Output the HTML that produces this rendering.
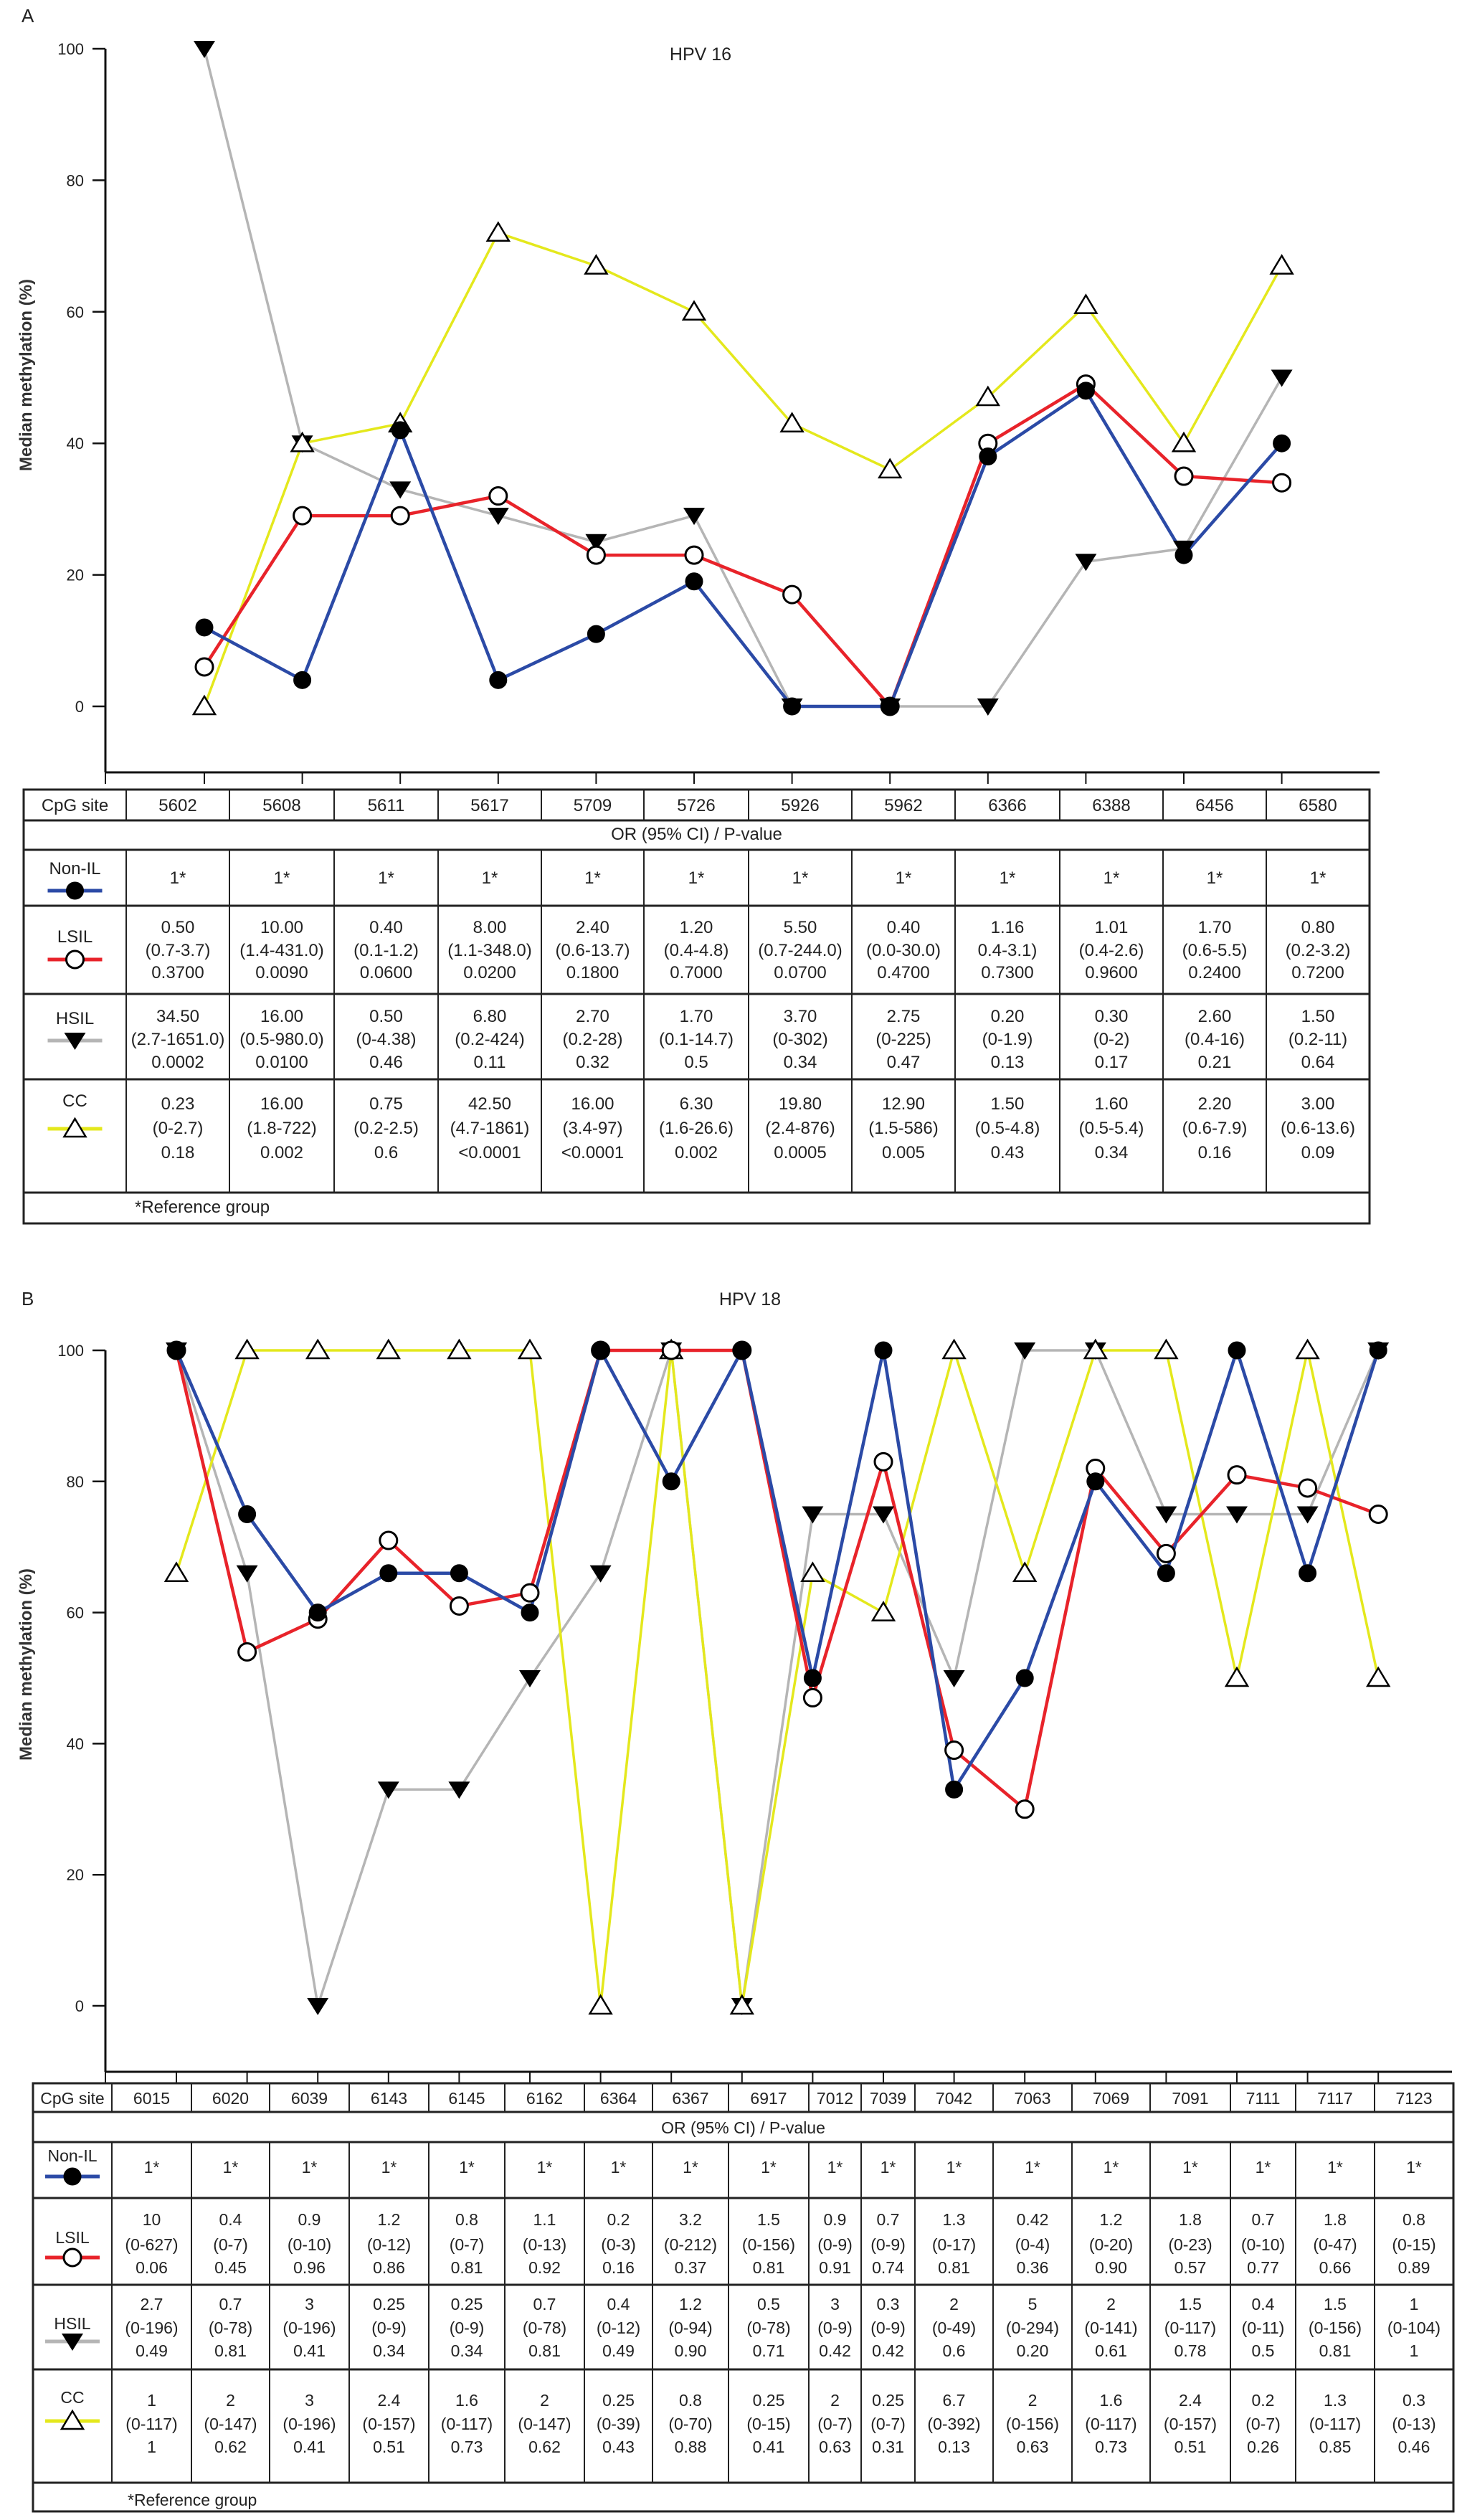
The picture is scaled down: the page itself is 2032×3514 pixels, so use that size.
<!DOCTYPE html>
<html><head><meta charset="utf-8">
<style>
html,body{margin:0;padding:0;background:#fff;}
svg{display:block;font-family:"Liberation Sans",Arial,sans-serif;}
</style></head>
<body>
<svg id="fig" width="2032" height="3514" viewBox="0 0 2032 3514" xmlns="http://www.w3.org/2000/svg">
<rect x="0" y="0" width="2032" height="3514" fill="#fff"/>
<text x="30" y="31" font-size="26" fill="#222">A</text>
<text x="977" y="84" font-size="25" text-anchor="middle" fill="#222">HPV 16</text>
<text x="30" y="1820" font-size="26" fill="#222">B</text>
<text x="1046" y="1820" font-size="25" text-anchor="middle" fill="#222">HPV 18</text>
<g id="chartA"></g>
<g id="tableA"></g>
<g id="chartB"></g>
<g id="tableB"></g>
</svg>
<script>
// ---------- Panel A data ----------
const A_sites=["5602","5608","5611","5617","5709","5726","5926","5962","6366","6388","6456","6580"];
const A_nonil=[12,4,42,4,11,19,0,0,38,48,23,40];
const A_lsil=[6,29,29,32,23,23,17,0,40,49,35,34];
const A_hsil=[100,40,33,29,25,29,0,0,0,22,24,50];
const A_cc=[0,40,43,72,67,60,43,36,47,61,40,67];
const yTicks=[0,20,40,60,80,100];
const A_tLSIL=[["0.50","(0.7-3.7)","0.3700"],["10.00","(1.4-431.0)","0.0090"],["0.40","(0.1-1.2)","0.0600"],["8.00","(1.1-348.0)","0.0200"],["2.40","(0.6-13.7)","0.1800"],["1.20","(0.4-4.8)","0.7000"],["5.50","(0.7-244.0)","0.0700"],["0.40","(0.0-30.0)","0.4700"],["1.16","0.4-3.1)","0.7300"],["1.01","(0.4-2.6)","0.9600"],["1.70","(0.6-5.5)","0.2400"],["0.80","(0.2-3.2)","0.7200"]];
const A_tHSIL=[["34.50","(2.7-1651.0)","0.0002"],["16.00","(0.5-980.0)","0.0100"],["0.50","(0-4.38)","0.46"],["6.80","(0.2-424)","0.11"],["2.70","(0.2-28)","0.32"],["1.70","(0.1-14.7)","0.5"],["3.70","(0-302)","0.34"],["2.75","(0-225)","0.47"],["0.20","(0-1.9)","0.13"],["0.30","(0-2)","0.17"],["2.60","(0.4-16)","0.21"],["1.50","(0.2-11)","0.64"]];
const A_tCC=[["0.23","(0-2.7)","0.18"],["16.00","(1.8-722)","0.002"],["0.75","(0.2-2.5)","0.6"],["42.50","(4.7-1861)","<0.0001"],["16.00","(3.4-97)","<0.0001"],["6.30","(1.6-26.6)","0.002"],["19.80","(2.4-876)","0.0005"],["12.90","(1.5-586)","0.005"],["1.50","(0.5-4.8)","0.43"],["1.60","(0.5-5.4)","0.34"],["2.20","(0.6-7.9)","0.16"],["3.00","(0.6-13.6)","0.09"]];
// ---------- Panel B data ----------
const B_sites=["6015","6020","6039","6143","6145","6162","6364","6367","6917","7012","7039","7042","7063","7069","7091","7111","7117","7123"];
const B_nonil=[100,75,60,66,66,60,100,80,100,50,100,33,50,80,66,100,66,100];
const B_lsil=[100,54,59,71,61,63,100,100,100,47,83,39,30,82,69,81,79,75];
const B_hsil=[100,66,0,33,33,50,66,100,0,75,75,50,100,100,75,75,75,100];
const B_cc=[66,100,100,100,100,100,0,100,0,66,60,100,66,100,100,50,100,50];
const B_tLSIL=[["10","(0-627)","0.06"],["0.4","(0-7)","0.45"],["0.9","(0-10)","0.96"],["1.2","(0-12)","0.86"],["0.8","(0-7)","0.81"],["1.1","(0-13)","0.92"],["0.2","(0-3)","0.16"],["3.2","(0-212)","0.37"],["1.5","(0-156)","0.81"],["0.9","(0-9)","0.91"],["0.7","(0-9)","0.74"],["1.3","(0-17)","0.81"],["0.42","(0-4)","0.36"],["1.2","(0-20)","0.90"],["1.8","(0-23)","0.57"],["0.7","(0-10)","0.77"],["1.8","(0-47)","0.66"],["0.8","(0-15)","0.89"]];
const B_tHSIL=[["2.7","(0-196)","0.49"],["0.7","(0-78)","0.81"],["3","(0-196)","0.41"],["0.25","(0-9)","0.34"],["0.25","(0-9)","0.34"],["0.7","(0-78)","0.81"],["0.4","(0-12)","0.49"],["1.2","(0-94)","0.90"],["0.5","(0-78)","0.71"],["3","(0-9)","0.42"],["0.3","(0-9)","0.42"],["2","(0-49)","0.6"],["5","(0-294)","0.20"],["2","(0-141)","0.61"],["1.5","(0-117)","0.78"],["0.4","(0-11)","0.5"],["1.5","(0-156)","0.81"],["1","(0-104)","1"]];
const B_tCC=[["1","(0-117)","1"],["2","(0-147)","0.62"],["3","(0-196)","0.41"],["2.4","(0-157)","0.51"],["1.6","(0-117)","0.73"],["2","(0-147)","0.62"],["0.25","(0-39)","0.43"],["0.8","(0-70)","0.88"],["0.25","(0-15)","0.41"],["2","(0-7)","0.63"],["0.25","(0-7)","0.31"],["6.7","(0-392)","0.13"],["2","(0-156)","0.63"],["1.6","(0-117)","0.73"],["2.4","(0-157)","0.51"],["0.2","(0-7)","0.26"],["1.3","(0-117)","0.85"],["0.3","(0-13)","0.46"]];

const NS="http://www.w3.org/2000/svg";
const COL={nonil:"#2b4aa6",lsil:"#e8232a",hsil:"#b5b5b5",cc:"#e4e81c"};
function mk(parent,tag,attrs){const e=document.createElementNS(NS,tag);for(const k in attrs)e.setAttribute(k,attrs[k]);parent.appendChild(e);return e;}

function marker(g,type,x,y){
  let e;
  if(type==="nonil"){e=mk(g,"circle",{cx:x,cy:y,r:12,fill:"#000",stroke:"#000","stroke-width":1});}
  else if(type==="lsil"){e=mk(g,"circle",{cx:x,cy:y,r:12,fill:"#fff",stroke:"#000","stroke-width":3});}
  else if(type==="hsil"){e=mk(g,"polygon",{points:(x-15)+","+(y-11)+" "+(x+15)+","+(y-11)+" "+x+","+(y+13),fill:"#000"});}
  else {e=mk(g,"polygon",{points:x+","+(y-14)+" "+(x-15)+","+(y+11)+" "+(x+15)+","+(y+11),fill:"#fff",stroke:"#000","stroke-width":2.5,"stroke-linejoin":"miter"});}
  return e;
}

function chart(id,cfg){
  const g=document.getElementById(id);
  const xf=i=>cfg.x0+i*cfg.dx;
  const yf=v=>cfg.yZero-v*(cfg.yZero-cfg.yHundred)/100;
  // axes
  const ax=mk(g,"line",{x1:cfg.axX,y1:yf(100),x2:cfg.axX,y2:cfg.axisY,stroke:"#111","stroke-width":3});
  
  
  const bx=mk(g,"line",{x1:cfg.axX,y1:cfg.axisY,x2:cfg.axEnd,y2:cfg.axisY,stroke:"#111","stroke-width":3});
  
  
  yTicks.forEach(t=>{
    const tk=mk(g,"line",{x1:cfg.axX-18,y1:yf(t),x2:cfg.axX,y2:yf(t),stroke:"#111","stroke-width":2.5});
    
    
    const tl=mk(g,"text",{x:cfg.axX-30,y:yf(t)+8,"font-size":22,"text-anchor":"end",fill:"#222"});
    tl.textContent=String(t);
    
    
  });
  const tk0=mk(g,"line",{x1:cfg.axX,y1:cfg.axisY,x2:cfg.axX,y2:cfg.axisY+16,stroke:"#111","stroke-width":2});
  
  
  for(let i=0;i<cfg.n;i++){
    const tk=mk(g,"line",{x1:xf(i),y1:cfg.axisY,x2:xf(i),y2:cfg.axisY+16,stroke:"#111","stroke-width":2});
    
    
  }
  const yt=mk(g,"text",{x:0,y:0,"font-size":24,"font-weight":"bold","text-anchor":"middle",fill:"#333",transform:"translate(44,"+cfg.titleY+") rotate(-90)"});
  yt.textContent="Median methylation (%)";
  
  
  const series=[["hsil",cfg.hsil,3.5],["cc",cfg.cc,3.5],["lsil",cfg.lsil,4.5],["nonil",cfg.nonil,4.5]];
  series.forEach(([k,vals,w])=>{
    const pts=vals.map((v,i)=>xf(i)+","+yf(v)).join(" ");
    const pl=mk(g,"polyline",{points:pts,fill:"none",stroke:COL[k],"stroke-width":w,"stroke-linejoin":"round"});
    
    
  });
  series.forEach(([k,vals])=>{
    vals.forEach((v,i)=>{
      const m=marker(g,k,xf(i),yf(v));
      
      
    });
  });
}

function fitText(t,maxW){try{const w=t.getComputedTextLength();if(w>maxW){t.setAttribute("textLength",maxW);t.setAttribute("lengthAdjust","spacingAndGlyphs");}}catch(e){}}

function table(id,cfg){
  const g=document.getElementById(id);
  const L=cfg.cols[0],R=cfg.cols[cfg.cols.length-1],rows=cfg.rows;
  const T=rows[0],B=rows[rows.length-1];
  const rect=mk(g,"rect",{x:L,y:T,width:R-L,height:B-T,fill:"none",stroke:"#222","stroke-width":3});
  
  
  rows.slice(1,-1).forEach(y=>{
    const l=mk(g,"line",{x1:L,y1:y,x2:R,y2:y,stroke:"#222","stroke-width":3});
    
    
  });
  cfg.cols.slice(1,-1).forEach(x=>{
    [[rows[0],rows[1]],[rows[2],rows[6]]].forEach(([a,b])=>{
      const l=mk(g,"line",{x1:x,y1:a,x2:x,y2:b,stroke:"#222","stroke-width":2});
      
      
    });
  });
  const txt=(x,y,s,anchor,maxW)=>{const t=mk(g,"text",{x:x,y:y,"font-size":cfg.fs,"text-anchor":anchor||"middle",fill:"#222"});t.textContent=s;if(maxW)fitText(t,maxW);return t;};
  const cx=i=>(cfg.cols[i]+cfg.cols[i+1])/2;
  const cw=i=>cfg.cols[i+1]-cfg.cols[i]-4;
  let h=txt(cx(0),cfg.headY+8,"CpG site","middle",cw(0));
  
  
  cfg.sites.forEach((s,i)=>{const t=txt(cx(i+1),cfg.headY+8,s,"middle",cw(i+1));
    
    });
  h=txt((L+R)/2,cfg.orY+8,"OR (95% CI) / P-value");
  
  
  cfg.sites.forEach((s,i)=>{const t=txt(cx(i+1),cfg.nonY+8,"1*");
    
    });
  [["lsil",cfg.lsilData,cfg.lsilY],["hsil",cfg.hsilData,cfg.hsilY],["cc",cfg.ccData,cfg.ccY]].forEach(([k,data,ys])=>{
    data.forEach((trip,i)=>{trip.forEach((s,j)=>{const t=txt(cx(i+1),ys[j]+8,s,"middle",cw(i+1));
      
      });});
  });
  // group labels with legend icons
  [["nonil","Non-IL"],["lsil","LSIL"],["hsil","HSIL"],["cc","CC"]].forEach(([k,lab])=>{
    const p=cfg.labels[k];
    const t=txt(cx(0),p[0]+8,lab);
    
    
    const ln=mk(g,"line",{x1:cx(0)-38,y1:p[1],x2:cx(0)+38,y2:p[1],stroke:COL[k],"stroke-width":5});
    
    
    const m=marker(g,k,cx(0),p[1]);
    
    
  });
  h=txt(cfg.refX,cfg.refY+8,"*Reference group","start");
  
  
}

chart("chartA",{n:12,x0:285,dx:136.6,yZero:985,yHundred:68,axX:147,axEnd:1924,axisY:1077,titleY:523,
  nonil:A_nonil,lsil:A_lsil,hsil:A_hsil,cc:A_cc});
chart("chartB",{n:18,x0:246,dx:98.6,yZero:2797,yHundred:1883,axX:147,axEnd:2025,axisY:2889,titleY:2321,
  nonil:B_nonil,lsil:B_lsil,hsil:B_hsil,cc:B_cc});

table("tableA",{fs:24,sites:A_sites,
  cols:[33,176,320,466,611,755,898,1044,1188,1332,1478,1622,1766,1910],
  rows:[1101,1144,1185,1263,1386,1505,1663,1706],
  headY:1123,orY:1163,nonY:1224,lsilY:[1293,1325,1356],hsilY:[1417,1449,1481],ccY:[1539,1573,1607],
  lsilData:A_tLSIL,hsilData:A_tHSIL,ccData:A_tCC,
  labels:{nonil:[1211,1242],lsil:[1306,1338],hsil:[1420,1451],cc:[1535,1574]},
  refX:188,refY:1683});
table("tableB",{fs:23,sites:B_sites,
  cols:[46,156,267,376,487,598,704,815,910,1016,1128,1201,1276,1385,1495,1604,1716,1807,1917,2027],
  rows:[2905,2945,2987,3065,3186,3304,3462,3502],
  headY:2926,orY:2967,nonY:3022,lsilY:[3095,3130,3162],hsilY:[3213,3246,3278],ccY:[3347,3380,3412],
  lsilData:B_tLSIL,hsilData:B_tHSIL,ccData:B_tCC,
  labels:{nonil:[3006,3035],lsil:[3120,3148],hsil:[3240,3265],cc:[3343,3376]},
  refX:178,refY:3486});
</script>
</body></html>
